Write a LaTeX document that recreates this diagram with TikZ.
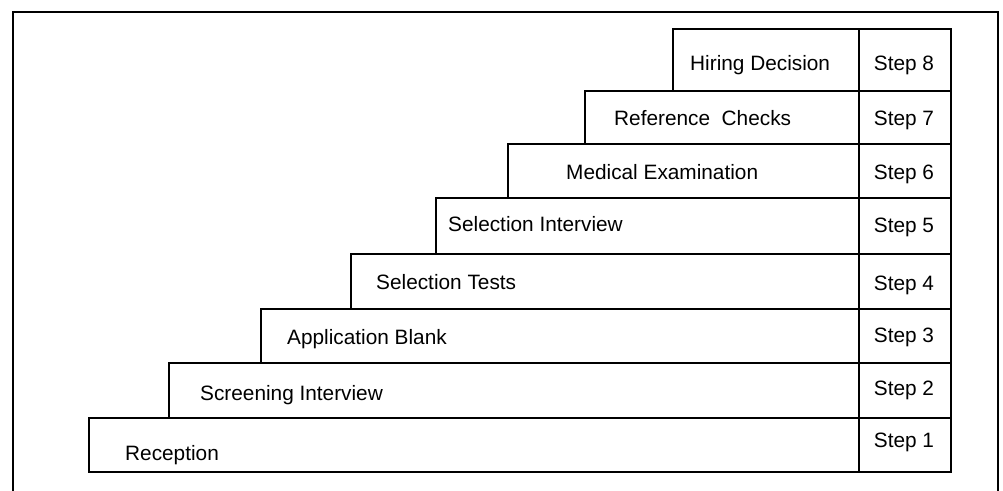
\documentclass[tikz,border=0pt]{standalone}
\usepackage{fontspec}
\setmainfont{Liberation Sans}
\begin{document}
\begin{tikzpicture}[x=1pt,y=-1pt,
  box/.style={draw=black, line width=2pt, rectangle, inner sep=0pt, anchor=north west},
  rowlabel/.style={anchor=base west, inner sep=0pt, font=\fontsize{20.8}{24}\selectfont, text=black},
  steplabel/.style={anchor=base, inner sep=0pt, font=\fontsize{20.8}{24}\selectfont, text=black}]
\useasboundingbox (0,0) rectangle (1003,490);
% outer frame, running off the lower edge
\coordinate (fbl) at (13,500);
\coordinate (ftl) at (13,12);
\coordinate (ftr) at (998,12);
\coordinate (fbr) at (998,500);
\draw[line width=1.6pt] (fbl) -- (ftl) -- (ftr) -- (fbr);
% staircase: step / left edge / top / bottom / label / label x / label y
\foreach \n/\l/\t/\b/\txt/\tx/\ty in {
  8/672/28/90/{Hiring Decision}/690/63,
  7/584/90/143/{Reference\ \ Checks}/614/118,
  6/507/143/197/{Medical Examination}/566/172,
  5/435/197/253/{Selection Interview}/448/224,
  4/350/253/308/{Selection Tests}/376/282,
  3/260/308/362/{Application Blank}/287/337,
  2/168/362/417/{Screening Interview}/200/393,
  1/88/417/471/{Reception}/125/453}{
  \pgfmathsetmacro{\w}{858-\l}
  \pgfmathsetmacro{\h}{\b-\t}
  \node[box, minimum width=\w pt, minimum height=\h pt] (row\n) at (\l,\t) {};
  \node[box, minimum width=92pt, minimum height=\h pt] (step\n) at (858,\t) {};
  \node[rowlabel] (lab\n) at (\tx,\ty+7) {\txt};
}
\foreach \n/\y in {8/63,7/118,6/172,5/225,4/283,3/335,2/388,1/440}{
  \node[steplabel] (steptxt\n) at (904,\y+7) {Step \n};
}
\end{tikzpicture}
\end{document}
